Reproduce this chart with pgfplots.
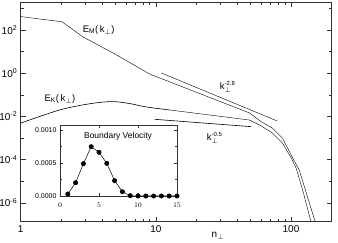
\documentclass[border=0pt]{standalone}
\usepackage{fontspec}
\setmainfont{Liberation Sans}
\usepackage{pgfplots}
\pgfplotsset{compat=1.18}
\begin{document}
\begin{tikzpicture}
\useasboundingbox (-20.7bp,-21.3bp) rectangle (317.3bp,221.7bp);
\begin{axis}[
  at={(0,0)}, anchor=south west,
  scale only axis, width=311bp, height=219.7bp,
  xmode=log, ymode=log,
  xmin=1, xmax=200, ymin=1.334e-7, ymax=1977,
  xtick={1,10,100}, xticklabels={1,10,100},
  minor xtick={2,3,4,5,6,7,8,9,20,30,40,50,60,70,80,90,200},
  ytick={1e-6,1e-4,1e-2,1,1e2},
  yticklabels={10\textsuperscript{-6},10\textsuperscript{-4},10\textsuperscript{-2},10\textsuperscript{0},10\textsuperscript{2}},
  minor ytick={1e-5,1e-3,1e-1,10,1e3},
  tick align=inside, major tick length=5bp, minor tick length=3bp,
  tick style={black!80, line width=0.5bp},
  axis line style={line width=0.6bp, black!80},
  ticklabel style={font=\fontsize{10}{12}\selectfont},
  xlabel={n\textsubscript{$\perp$}},
  xlabel style={at={(axis description cs:0.634,-0.065)}, anchor=center, font=\fontsize{10}{12}\selectfont},
  cycle list={{black, line width=0.6bp, mark=none}},
]
% E_M
\addplot coordinates {(1,417) (2.02,240) (2.89,47.9) (5.14,6.92) (9.0,0.912) (49.2,0.0145) (60.1,0.00569) (72.8,0.00288) (86.3,0.001) (102,1.32e-4) (115,3.3e-5) (132,2.0e-6) (151,1.3e-7) (155,1e-7)};
% E_K (low-k part, smooth hump)
\addplot+[smooth, tension=0.5] coordinates {(1,0.0049) (1.95,0.020) (3.2,0.038) (4.7,0.0485) (6.3,0.040) (8.55,0.0272) (12.7,0.0198)};
% E_K (high-k part)
\addplot coordinates {(12.7,0.0198) (49.2,0.0068) (60.1,0.00363) (72.8,0.0017) (86.3,5.9e-4) (100.5,1.17e-4) (109,4.07e-5) (123,3.2e-6) (140.6,1.3e-7) (145,1e-7)};
% reference slopes
\addplot coordinates {(11.0,1.02) (79.2,0.0061)};
\addplot coordinates {(9.8,0.00734) (50.9,0.00334)};
\node[font=\fontsize{9.5}{11}\selectfont] at (axis cs:3.78,100) {E\textsubscript{M}(\,k\textsubscript{$\perp$})};
\node[font=\fontsize{9.5}{11}\selectfont] at (axis cs:1.95,0.064) {E\textsubscript{K}(\,k\textsubscript{$\perp$})};
\node[font=\fontsize{9.5}{11}\selectfont] at (axis cs:34,0.23) {k$_{\perp}^{\hbox{\fontsize{6}{7}\selectfont -2.8}}$};
\node[font=\fontsize{9.5}{11}\selectfont] at (axis cs:27.2,0.001) {k$_{\perp}^{\hbox{\fontsize{6}{7}\selectfont -0.5}}$};
\end{axis}
\begin{axis}[
  at={(39.3bp,25.7bp)}, anchor=south west,
  scale only axis, width=117bp, height=71bp,
  xmin=0, xmax=15, ymin=0, ymax=0.001076,
  xtick={0,5,10,15}, ytick={0,0.0005,0.001},
  yticklabels={0.0000,0.0005,0.0010}, scaled y ticks=false,
  minor y tick num=1,
  tick align=inside, major tick length=3bp, minor tick length=2bp,
  tick style={black!80, line width=0.5bp},
  axis line style={line width=0.6bp, black!80},
  axis background/.style={fill=white},
  ticklabel style={font=\fontsize{7}{8}\selectfont},
  xticklabel style={yshift=-3bp},
]
\addplot[black, line width=0.5bp, mark=*, mark size=2.2bp] coordinates {
(1,0.00003) (2,0.000202) (3,0.00049) (4,0.000747) (5,0.000662) (6,0.000495) (7,0.000232) (8,0.000065) (9,0.000005) (10,0.000001) (11,0) (12,0) (13,0) (14,0) (15,0)};
\node[font=\fontsize{8.5}{10}\selectfont] at (axis description cs:0.496,0.838) {Boundary Velocity};
\end{axis}
\end{tikzpicture}
\end{document}
